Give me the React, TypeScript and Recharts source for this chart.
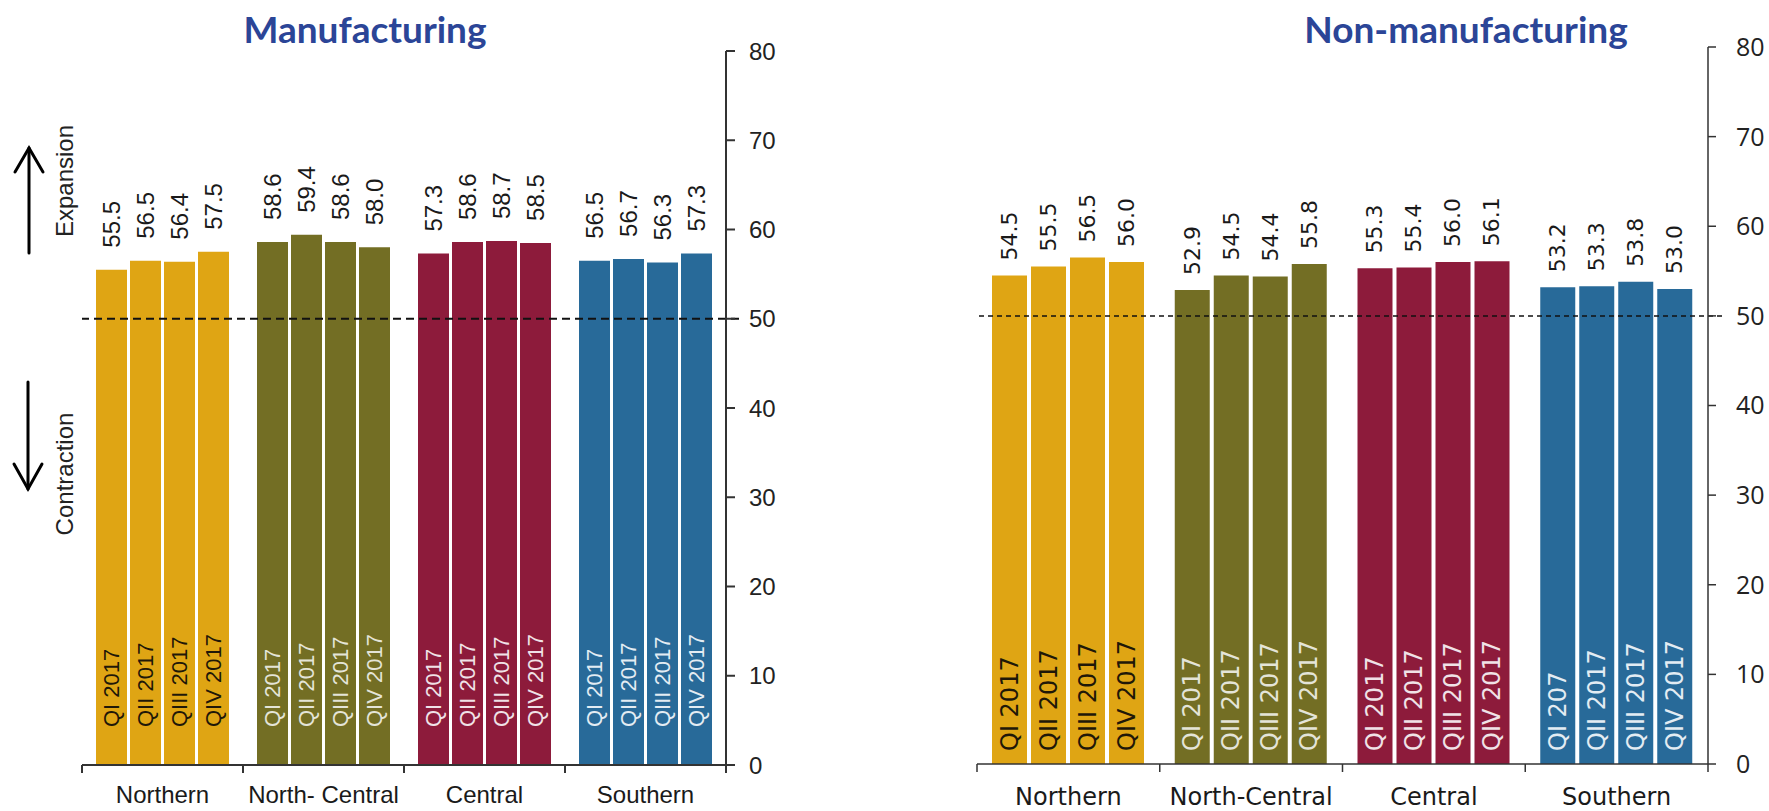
import React from "react";
import { BarChart, Bar, XAxis, YAxis, ReferenceLine, LabelList, Cell } from "recharts";

// ---- data -------------------------------------------------------------------
const mfgRegions = ["Northern", "North- Central", "Central", "Southern"];
const nonMfgRegions = ["Northern", "North-Central", "Central", "Southern"];

const quarterKeys = ["q1", "q2", "q3", "q4"];
const quarterNames = ["QI 2017", "QII 2017", "QIII 2017", "QIV 2017"];

const mfgQ1 = [55.5, 58.6, 57.3, 56.5];
const mfgQ2 = [56.5, 59.4, 58.6, 56.7];
const mfgQ3 = [56.4, 58.6, 58.7, 56.3];
const mfgQ4 = [57.5, 58.0, 58.5, 57.3];

const nonMfgQ1 = [54.5, 52.9, 55.3, 53.2];
const nonMfgQ2 = [55.5, 54.5, 55.4, 53.3];
const nonMfgQ3 = [56.5, 54.4, 56.0, 53.8];
const nonMfgQ4 = [56.0, 55.8, 56.1, 53.0];

// the source chart prints "QI 207" under Southern, keep it as is
const nonMfgQ1Labels = ["QI 2017", "QI 2017", "QI 2017", "QI 207"];

const yTicks = [0, 10, 20, 30, 40, 50, 60, 70, 80];

const regionColors = ["#DFA514", "#736E24", "#8D1B3B", "#286A99"];
const insideTextColors = ["#1f1808", "#e4e4d8", "#f0e2e7", "#e3ecf3"];
const titleColor = "#2B4597";
const axisColor = "#333";

function buildRows(regions: string[], series: number[][], labels: string[][]) {
  return regions.map((region, i) => {
    const row: Record<string, string | number> = { region };
    quarterKeys.forEach((k, qi) => {
      row[k] = series[qi][i];
      row["l" + (qi + 1)] = labels[qi][i];
    });
    return row;
  });
}

const sameLabels = (name: string) => mfgRegions.map(() => name);

const mfgRows = buildRows(
  mfgRegions,
  [mfgQ1, mfgQ2, mfgQ3, mfgQ4],
  quarterNames.map(sameLabels),
);
const nonMfgRows = buildRows(
  nonMfgRegions,
  [nonMfgQ1, nonMfgQ2, nonMfgQ3, nonMfgQ4],
  [nonMfgQ1Labels, sameLabels(quarterNames[1]), sameLabels(quarterNames[2]), sameLabels(quarterNames[3])],
);

// ---- chart ------------------------------------------------------------------
interface PanelStyle {
  width: number;
  height: number;
  marginLeft: number;
  marginTop: number;
  yAxisWidth: number;
  xAxisHeight: number;
  catGap: number;
  barGap: number;
  font: string;
  tickFont: string;
  tickSize: number;
  tickFontSize: number;
  yTickMargin: number;
  xLabelDrop: number;
  xFontSize: number;
  valueFontSize: number;
  valueGap: number;
  quarterFontSize: number;
  quarterOffset: number;
  axisWidth: number;
  dash: string;
  dashWidth: number;
}

function readBox(p: any) {
  const vb = p.viewBox && p.viewBox.width != null ? p.viewBox : p;
  return { x: Number(vb.x), y: Number(vb.y), width: Number(vb.width), height: Number(vb.height) };
}

function Panel({ rows, s }: { rows: Record<string, string | number>[]; s: PanelStyle }) {
  const plotWidth = s.width - s.marginLeft - s.yAxisWidth;
  const band = plotWidth / rows.length;
  const axisY = s.height - s.xAxisHeight;

  const valueLabel = (p: any) => {
    const { x, y, width } = readBox(p);
    const cx = x + width / 2;
    const cy = y - s.valueGap;
    return (
      <text
        x={cx}
        y={cy}
        transform={`rotate(-90 ${cx} ${cy})`}
        textAnchor="start"
        dominantBaseline="central"
        fontFamily={s.font}
        fontSize={s.valueFontSize}
        fill="#1a1a1a"
      >
        {Number(p.value).toFixed(1)}
      </text>
    );
  };

  const quarterLabel = (p: any) => {
    const { x, y, width, height } = readBox(p);
    const cx = x + width / 2;
    const cy = y + height - s.quarterOffset;
    const idx = typeof p.index === "number" ? p.index : 0;
    return (
      <text
        x={cx}
        y={cy}
        transform={`rotate(-90 ${cx} ${cy})`}
        textAnchor="start"
        dominantBaseline="central"
        fontFamily={s.font}
        fontSize={s.quarterFontSize}
        fill={insideTextColors[idx]}
      >
        {p.value}
      </text>
    );
  };

  // category label plus the boundary tick marks (Excel style, between groups)
  const categoryTick = (p: any) => {
    const cx = Number(p.x);
    const left = cx - band / 2;
    const isLast = p.index === rows.length - 1;
    return (
      <g>
        <line x1={left} y1={axisY} x2={left} y2={axisY + 8} stroke={axisColor} strokeWidth={s.axisWidth} />
        {isLast && (
          <line x1={left + band} y1={axisY} x2={left + band} y2={axisY + 8} stroke={axisColor} strokeWidth={s.axisWidth} />
        )}
        <text x={cx} y={axisY + s.xLabelDrop} textAnchor="middle" fontFamily={s.font} fontSize={s.xFontSize} fill="#1a1a1a">
          {p.payload.value}
        </text>
      </g>
    );
  };

  return (
    <BarChart
      width={s.width}
      height={s.height}
      data={rows}
      margin={{ top: s.marginTop, right: 0, bottom: 0, left: s.marginLeft }}
      barCategoryGap={s.catGap}
      barGap={s.barGap}
    >
      <XAxis
        dataKey="region"
        height={s.xAxisHeight}
        interval={0}
        tickLine={false}
        axisLine={{ stroke: axisColor, strokeWidth: s.axisWidth }}
        tick={categoryTick}
      />
      <YAxis
        orientation="right"
        domain={[0, 80]}
        ticks={yTicks}
        width={s.yAxisWidth}
        tickSize={s.tickSize}
        tickMargin={s.yTickMargin}
        axisLine={{ stroke: axisColor, strokeWidth: s.axisWidth }}
        tickLine={{ stroke: axisColor, strokeWidth: s.axisWidth }}
        tick={{ fontSize: s.tickFontSize, fill: "#222", fontFamily: s.tickFont, textAnchor: "start" }}
      />
      {quarterKeys.map((k, qi) => (
        <Bar key={k} dataKey={k} isAnimationActive={false} fill={regionColors[0]}>
          {rows.map((_, ri) => (
            <Cell key={ri} fill={regionColors[ri]} />
          ))}
          <LabelList dataKey={k} content={valueLabel} />
          <LabelList dataKey={"l" + (qi + 1)} content={quarterLabel} />
        </Bar>
      ))}
      <ReferenceLine
        y={50}
        ifOverflow="extendDomain"
        shape={(p: any) => (
          <line
            x1={Number(p.x1) + s.catGap - 1}
            y1={p.y1}
            x2={p.x2}
            y2={p.y2}
            stroke="#111"
            strokeWidth={s.dashWidth}
            strokeDasharray={s.dash}
          />
        )}
      />
    </BarChart>
  );
}

const leftStyle: PanelStyle = {
  width: 800,
  height: 811,
  marginLeft: 82,
  marginTop: 51,
  yAxisWidth: 74,
  xAxisHeight: 46,
  catGap: 14,
  barGap: 3,
  font: "'Liberation Sans', Arial, sans-serif",
  tickFont: "'Liberation Sans', Arial, sans-serif",
  tickSize: 9,
  tickFontSize: 24,
  yTickMargin: 14,
  xLabelDrop: 38,
  xFontSize: 24,
  valueFontSize: 24,
  valueGap: 22,
  quarterFontSize: 22,
  quarterOffset: 38,
  axisWidth: 2,
  dash: "8 5",
  dashWidth: 2,
};

const rightStyle: PanelStyle = {
  width: 889,
  height: 811,
  marginLeft: 97,
  marginTop: 47,
  yAxisWidth: 61,
  xAxisHeight: 47,
  catGap: 15,
  barGap: 4,
  font: "'DejaVu Sans', Verdana, sans-serif",
  tickFont: "'Open Sans', sans-serif",
  tickSize: 8,
  tickFontSize: 25,
  yTickMargin: 20,
  xLabelDrop: 41,
  xFontSize: 24,
  valueFontSize: 22,
  valueGap: 15,
  quarterFontSize: 24,
  quarterOffset: 13,
  axisWidth: 1.5,
  dash: "5 4",
  dashWidth: 1.5,
};

export default function App() {
  return (
    <div style={{ position: "absolute", left: 0, top: 0, width: 1769, height: 811, background: "#fff", overflow: "hidden" }}>
      <div style={{ position: "absolute", left: 0, top: 0 }}>
        <Panel rows={mfgRows} s={leftStyle} />
      </div>
      <div style={{ position: "absolute", left: 880, top: 0 }}>
        <Panel rows={nonMfgRows} s={rightStyle} />
      </div>
      <svg width={1769} height={811} style={{ position: "absolute", left: 0, top: 0, pointerEvents: "none" }}>
        <text x={365} y={43} textAnchor="middle" fontFamily="Lato, sans-serif" fontWeight={700} fontSize={37} fill={titleColor}>
          Manufacturing
        </text>
        <text x={1466} y={43} textAnchor="middle" fontFamily="Lato, sans-serif" fontWeight={700} fontSize={37} fill={titleColor}>
          Non-manufacturing
        </text>
        {/* expansion / contraction arrows */}
        <g stroke="#000" strokeWidth={3} fill="none" strokeLinecap="round">
          <line x1={29} y1={253} x2={29} y2={148} />
          <polyline points="15,172 29,148 43,172" />
          <line x1={28} y1={382} x2={28} y2={489} />
          <polyline points="14,464 28,489 42,464" />
        </g>
        <text x={64} y={181} transform="rotate(-90 64 181)" textAnchor="middle" dominantBaseline="central" fontFamily="'Liberation Sans', Arial, sans-serif" fontSize={24} fill="#222">
          Expansion
        </text>
        <text x={64} y={474} transform="rotate(-90 64 474)" textAnchor="middle" dominantBaseline="central" fontFamily="'Liberation Sans', Arial, sans-serif" fontSize={24} fill="#222">
          Contraction
        </text>
      </svg>
    </div>
  );
}
